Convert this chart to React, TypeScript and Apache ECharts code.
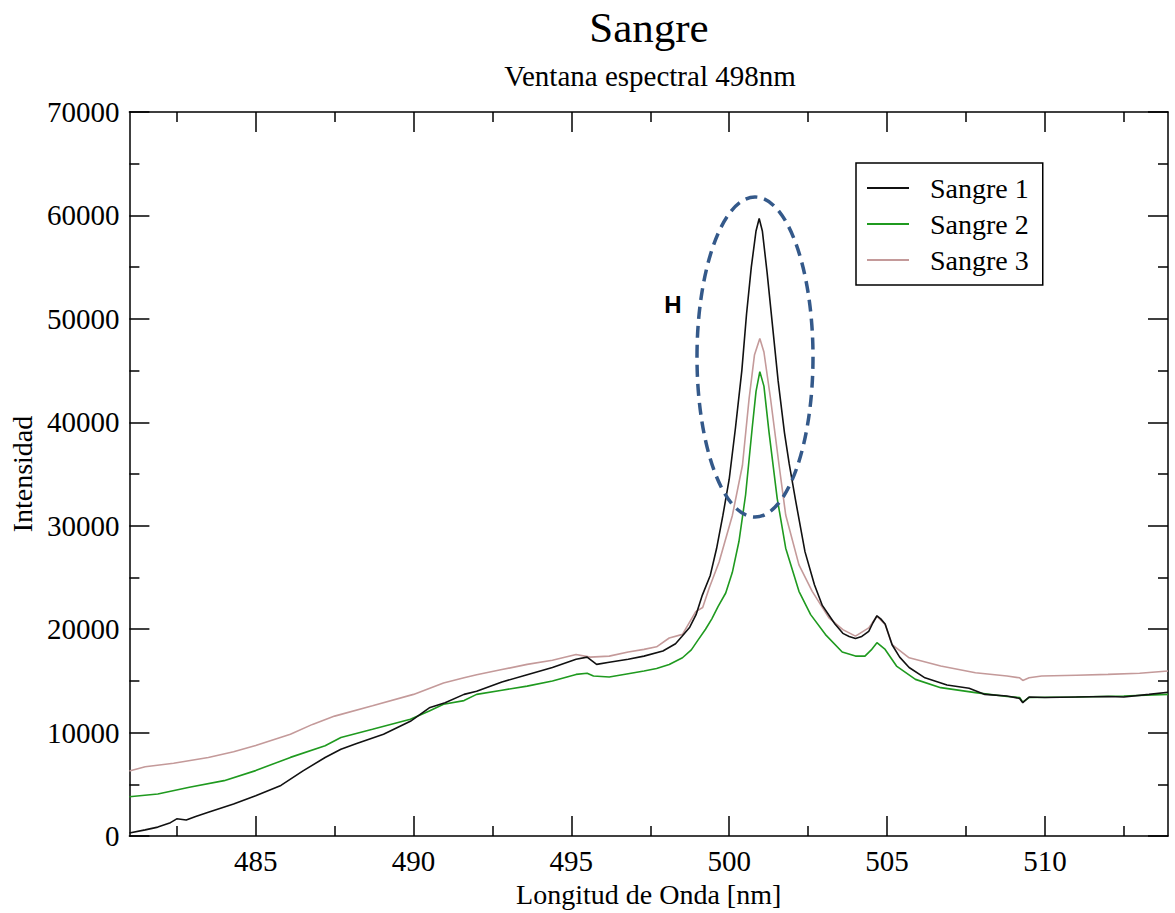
import React, { useEffect, useRef } from "react";
import * as echarts from "echarts";

const majorXTicks = [485, 490, 495, 500, 505, 510];
const minorXTicks = [482.5, 487.5, 492.5, 497.5, 502.5, 507.5, 512.5];
const seriesNames = ["Sangre 1", "Sangre 2", "Sangre 3"];
const seriesColors = ["#111111", "#1f9a1f", "#c49a9a"];

const s1X = [481.0, 481.5, 481.9, 482.3, 482.5, 482.8, 483.1, 483.5, 484.3, 485.0, 485.8, 486.5, 487.2, 487.7, 488.2, 489.05, 489.9, 490.5, 491.0, 491.6, 492.0, 492.8, 493.6, 494.4, 495.15, 495.5, 495.8, 496.2, 496.8, 497.3, 497.9, 498.3, 498.5, 498.75, 498.95, 499.15, 499.4, 499.6, 499.8, 500.0, 500.2, 500.4, 500.55, 500.7, 500.85, 500.95, 501.05, 501.2, 501.35, 501.55, 501.75, 501.9, 502.1, 502.4, 502.7, 502.95, 503.15, 503.35, 503.6, 503.8, 504.0, 504.2, 504.42, 504.55, 504.68, 504.8, 504.94, 505.16, 505.4, 505.7, 506.2, 506.9, 507.6, 508.1, 508.8, 509.2, 509.3, 509.5, 510.0, 511.0, 512.0, 512.5, 513.3, 513.9];
const s1Y = [300, 600, 870, 1300, 1670, 1550, 1900, 2300, 3100, 3900, 4900, 6300, 7600, 8400, 8950, 9850, 11100, 12400, 12900, 13700, 14000, 14900, 15600, 16300, 17100, 17300, 16600, 16800, 17100, 17400, 17900, 18600, 19300, 20200, 21400, 23300, 25200, 27800, 31000, 34500, 39500, 45000, 50500, 55000, 58500, 59700, 58500, 54500, 50000, 44000, 39000, 36000, 32500, 27500, 24300, 22300, 21400, 20500, 19600, 19300, 19100, 19300, 19800, 20600, 21300, 21000, 20500, 18500, 17300, 16300, 15300, 14600, 14300, 13700, 13550, 13300, 12900, 13450, 13400, 13450, 13500, 13450, 13700, 13900];

const s2X = [481.0, 481.9, 482.9, 484.0, 485.0, 486.1, 487.2, 487.7, 488.7, 489.9, 490.5, 490.95, 491.6, 492.0, 492.8, 493.6, 494.4, 495.15, 495.5, 495.7, 496.2, 496.8, 497.3, 497.7, 498.1, 498.52, 498.8, 499.0, 499.25, 499.45, 499.65, 499.89, 500.1, 500.31, 500.52, 500.73, 500.85, 500.97, 501.1, 501.26, 501.52, 501.79, 502.21, 502.58, 503.05, 503.58, 504.0, 504.3, 504.5, 504.68, 504.94, 505.3, 505.9, 506.7, 507.8, 508.8, 509.2, 509.3, 509.5, 511.0, 512.5, 513.9];
const s2Y = [3800, 4070, 4720, 5360, 6330, 7610, 8730, 9530, 10330, 11300, 12100, 12740, 13100, 13700, 14100, 14500, 15000, 15630, 15750, 15470, 15380, 15700, 15960, 16200, 16590, 17240, 18000, 18900, 20000, 21000, 22200, 23500, 25500, 28500, 33000, 39500, 43000, 44900, 43500, 39070, 32650, 27830, 23660, 21410, 19480, 17800, 17400, 17400, 18000, 18700, 18040, 16440, 15150, 14350, 13870, 13500, 13400, 12950, 13400, 13450, 13550, 13700];

const s3X = [481.0, 481.5, 482.4, 483.5, 484.3, 485.0, 486.1, 486.8, 487.5, 488.7, 490.0, 490.95, 491.6, 492.0, 492.8, 493.6, 494.4, 495.15, 495.6, 496.2, 496.8, 497.3, 497.7, 498.1, 498.52, 498.94, 499.16, 499.37, 499.68, 500.1, 500.42, 500.63, 500.8, 500.97, 501.1, 501.31, 501.58, 501.79, 502.21, 502.63, 503.16, 503.6, 504.0, 504.42, 504.68, 504.94, 505.16, 505.7, 506.7, 507.8, 508.8, 509.2, 509.3, 509.5, 509.9, 511.0, 512.0, 513.0, 513.9];
const s3Y = [6300, 6700, 7050, 7600, 8150, 8750, 9850, 10800, 11600, 12600, 13700, 14800, 15300, 15600, 16100, 16600, 17000, 17550, 17300, 17400, 17800, 18050, 18300, 19150, 19500, 21700, 22100, 24000, 26500, 31000, 35850, 42280, 46500, 48100, 46800, 42280, 35850, 31040, 26220, 23660, 21090, 19960, 19330, 20130, 21250, 20450, 18520, 17240, 16440, 15790, 15470, 15300, 15050, 15300, 15470, 15550, 15630, 15750, 15960];

const SERIF = '"Liberation Serif", "Times New Roman", serif';

export default function App() {
  const ref = useRef<HTMLDivElement>(null);
  useEffect(() => {
    if (!ref.current) return;
    const chart = echarts.init(ref.current, undefined, { renderer: "svg" });
    const axisLine = { show: true, lineStyle: { color: "#000", width: 1.5 } };
    const tickStyle = { color: "#000", width: 1.5 };
    const xCommon = { type: "value", min: 481, max: 513.9, splitLine: { show: false } };
    const yCommon = {
      type: "value",
      min: 0,
      max: 70000,
      interval: 10000,
      splitLine: { show: false },
      minorSplitLine: { show: false },
      minorTick: { show: true, splitNumber: 2, length: 10, lineStyle: tickStyle },
      axisTick: { show: true, inside: true, length: 20, lineStyle: tickStyle },
      axisLine,
    };
    const xs = [s1X, s2X, s3X];
    const ys = [s1Y, s2Y, s3Y];
    chart.setOption({
      animation: false,
      backgroundColor: "#ffffff",
      grid: { left: 125, right: 7, top: 112, bottom: 74 },
      legend: {
        orient: "vertical",
        left: 856,
        top: 163,
        icon: "rect",
        itemWidth: 42,
        itemHeight: 2,
        itemGap: 8,
        padding: [11, 14, 11, 11],
        borderColor: "#000",
        borderWidth: 1.5,
        data: seriesNames,
        textStyle: { fontFamily: SERIF, fontSize: 28, lineHeight: 28, color: "#000", padding: [0, 0, 0, 16] },
      },
      xAxis: [
        {
          ...xCommon,
          position: "bottom",
          axisLine,
          axisTick: { show: true, inside: true, length: 20, customValues: majorXTicks, lineStyle: tickStyle },
          axisLabel: {
            customValues: majorXTicks,
            formatter: (v: number) => String(v),
            fontFamily: SERIF,
            fontSize: 29,
            color: "#000",
            margin: 10,
          },
          name: "Longitud de Onda [nm]",
          nameLocation: "middle",
          nameGap: 42,
          nameTextStyle: { fontFamily: SERIF, fontSize: 28, color: "#000" },
        },
        {
          ...xCommon,
          position: "bottom",
          axisLine: { show: false },
          axisTick: { show: true, inside: true, length: 10, customValues: minorXTicks, lineStyle: tickStyle },
          axisLabel: { show: false },
        },
        {
          ...xCommon,
          position: "top",
          axisLine,
          axisTick: { show: true, inside: true, length: 20, customValues: majorXTicks, lineStyle: tickStyle },
          axisLabel: { show: false },
        },
        {
          ...xCommon,
          position: "top",
          axisLine: { show: false },
          axisTick: { show: true, inside: true, length: 10, customValues: minorXTicks, lineStyle: tickStyle },
          axisLabel: { show: false },
        },
      ],
      yAxis: [
        {
          ...yCommon,
          position: "left",
          axisLabel: {
            formatter: (v: number) => String(v),
            fontFamily: SERIF,
            fontSize: 29,
            color: "#000",
            margin: 10,
          },
          name: "Intensidad",
          nameLocation: "middle",
          nameGap: 88,
          nameTextStyle: { fontFamily: SERIF, fontSize: 28, color: "#000" },
        },
        {
          ...yCommon,
          position: "right",
          axisLabel: { show: false },
        },
      ],
      series: seriesNames.map((name, i) => ({
        name,
        type: "line",
        xAxisIndex: 0,
        yAxisIndex: 0,
        symbol: "none",
        smooth: false,
        color: seriesColors[i],
        lineStyle: { color: seriesColors[i], width: 1.6 },
        data: xs[i].map((x, j) => [x, ys[i][j]]),
        z: 3 - i,
      })),
      graphic: [
        {
          type: "text",
          x: 649,
          y: 27,
          style: { text: "Sangre", font: `43px ${SERIF}`, fill: "#000", align: "center", verticalAlign: "middle" },
        },
        {
          type: "text",
          x: 650,
          y: 76,
          style: {
            text: "Ventana espectral 498nm",
            font: `29px ${SERIF}`,
            fill: "#000",
            align: "center",
            verticalAlign: "middle",
          },
        },
        {
          type: "ellipse",
          shape: { cx: 755, cy: 357, rx: 58, ry: 160 },
          style: { fill: "none", stroke: "#34598a", lineWidth: 3.5, lineDash: [12, 7] },
          z: 100,
        },
        {
          type: "text",
          x: 673,
          y: 304,
          style: {
            text: "H",
            font: 'bold 24px "Liberation Sans", Arial, sans-serif',
            fill: "#000",
            align: "center",
            verticalAlign: "middle",
          },
          z: 100,
        },
      ],
    });
    return () => chart.dispose();
  }, []);
  return (
    <div
      ref={ref}
      style={{ position: "absolute", left: 0, top: 0, width: 1175, height: 913, background: "#fff" }}
    />
  );
}
